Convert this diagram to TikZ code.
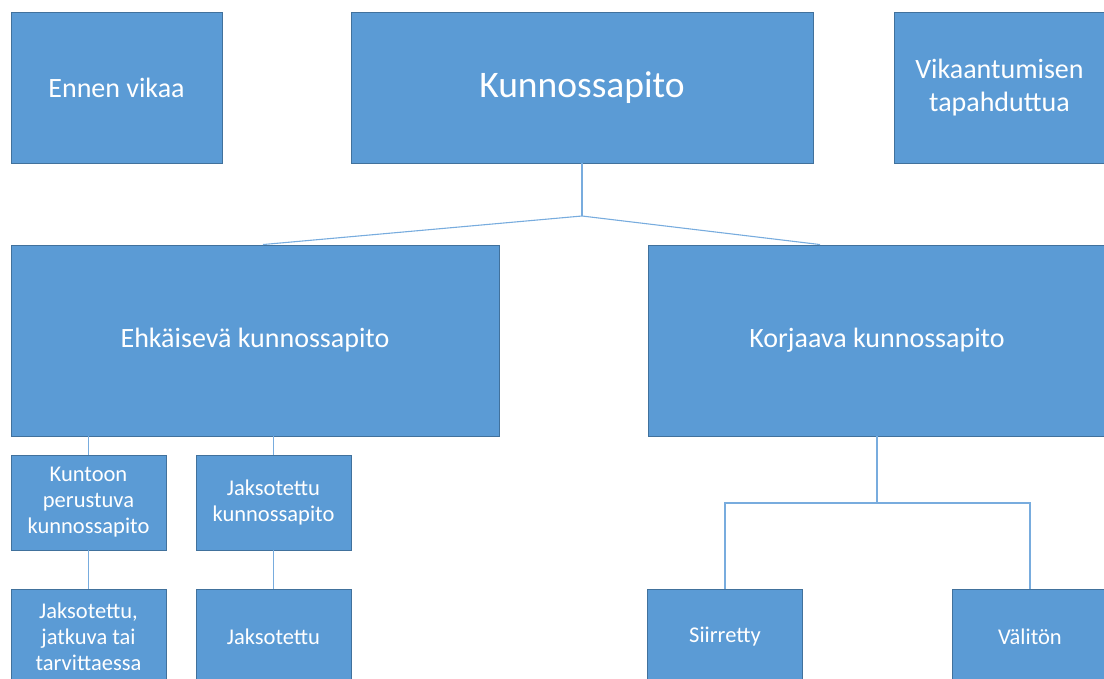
\documentclass[tikz,border=0pt]{standalone}
\usepackage{fontspec}
\setmainfont{Carlito}
\usetikzlibrary{positioning,calc}
\definecolor{boxblue}{RGB}{91,155,213}
\definecolor{edgeblue}{RGB}{65,113,156}
\definecolor{linkblue}{RGB}{120,172,222}

\tikzset{
  box/.style={draw=edgeblue,fill=boxblue,text=white,line width=0.9pt,
    align=center,inner sep=2pt},
  bigtext/.style={font=\fontsize{28}{33}\selectfont},
  smallbox/.style={box,minimum width=155pt,minimum height=95pt,
    font=\fontsize{22.5}{26}\selectfont},
  link/.style={draw=linkblue,line width=1.1pt}
}

\begin{document}
\begin{tikzpicture}[x=1pt,y=-1pt]
  \useasboundingbox (0,0) rectangle (1104,679);
  \clip (0,0) rectangle (1104,679);
  % top row
  \node[box,bigtext,minimum width=211pt,minimum height=151pt]
    (ennen) at (116.5,87.5) {Ennen vikaa};
  \node[box,minimum width=462pt,minimum height=151pt,font=\fontsize{37.5}{44}\selectfont]
    (kp) at (582,87.5) {Kunnossapito};
  \node[box,bigtext,minimum width=211pt,minimum height=151pt]
    (vika) at (999.5,87.5) {Vikaantumisen\\tapahduttua};
  % second row
  \node[box,bigtext,minimum width=488pt,minimum height=191pt]
    (ehk) at (255,340.5) {Ehkäisevä kunnossapito};
  \node[box,bigtext,minimum width=458pt,minimum height=191pt]
    (korj) at (877,340.5) {Korjaava kunnossapito};
  % small boxes
  \node[smallbox] (kunto) at (88.5,502.5) {Kuntoon\\perustuva\\kunnossapito};
  \node[smallbox] (jaks) at (273.5,502.5) {Jaksotettu\\kunnossapito};
  \node[smallbox] (jatk) at (88.5,636.5) {Jaksotettu,\\jatkuva tai\\tarvittaessa};
  \node[smallbox] (jaks2) at (273.5,636.5) {Jaksotettu};
  \node[smallbox] (siir) at (725,636.5) {Siirretty};
  \node[smallbox] (valit) at (1030,636.5) {Välitön};

  % connectors
  \coordinate (kj) at (582,216);
  \draw[link] (kp.south) -- (kj);
  \draw[link] (kj) -- ([xshift=8pt]ehk.north);
  \draw[link] (kj) -- ([xshift=-57pt]korj.north);
  \draw[link] (ehk.south -| kunto.north) -- (kunto.north);
  \draw[link] (ehk.south -| jaks.north) -- (jaks.north);
  \draw[link] (kunto) -- (jatk);
  \draw[link] (jaks) -- (jaks2);
  \coordinate (kb) at (877,503);
  \draw[link] (korj.south) -- (kb);
  \draw[link] (siir.north) |- (kb) -| (valit.north);
\end{tikzpicture}
\end{document}
